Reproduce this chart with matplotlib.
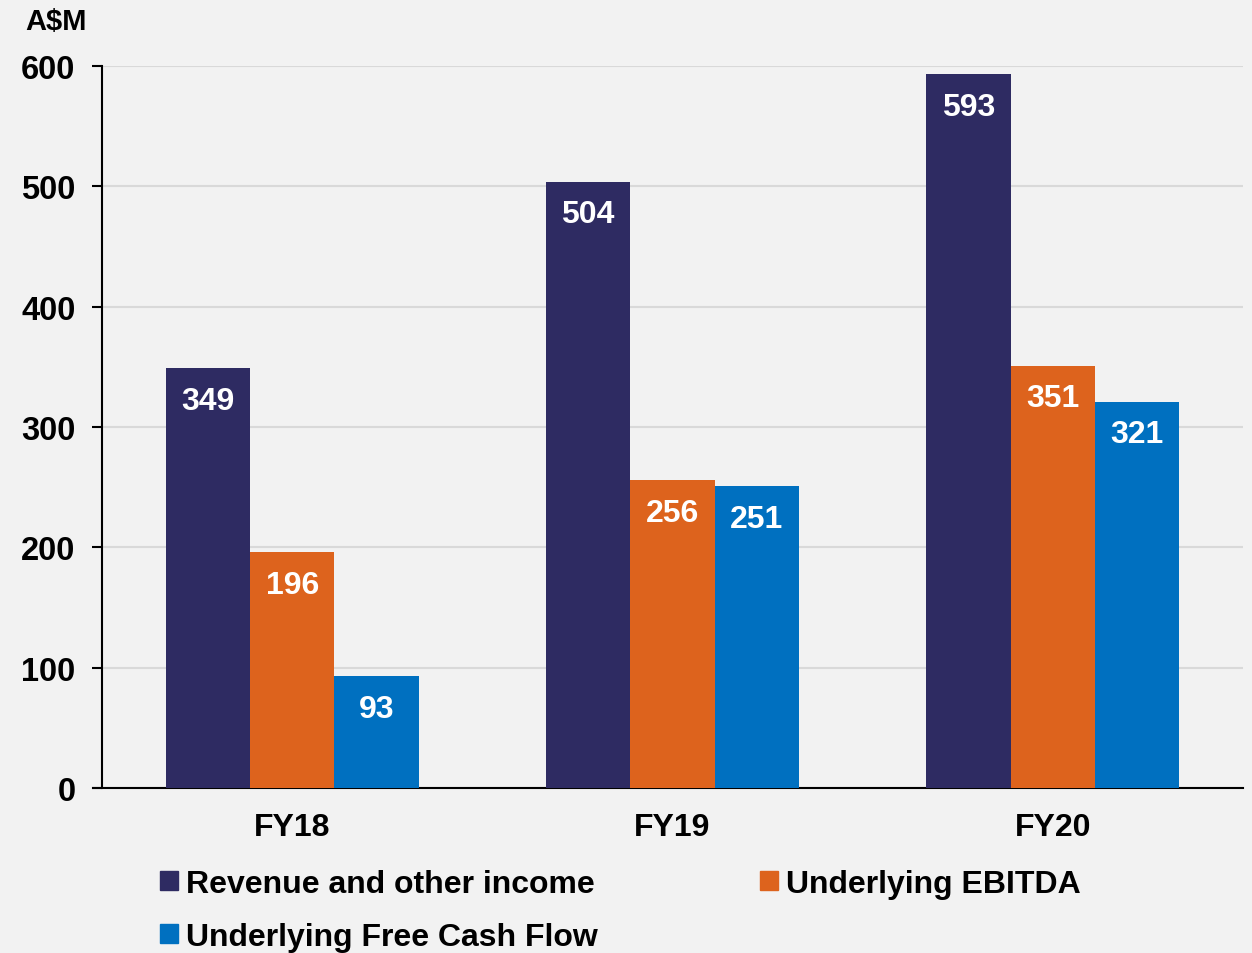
import matplotlib
matplotlib.use("Agg")
import matplotlib.pyplot as plt
import numpy as np
from matplotlib.patches import Patch

categories = ["FY18", "FY19", "FY20"]
series_names = ["Revenue and other income", "Underlying EBITDA", "Underlying Free Cash Flow"]
revenue = [349, 504, 593]
ebitda = [196, 256, 351]
fcf = [93, 251, 321]
yticks = [0, 100, 200, 300, 400, 500, 600]
colors = ["#2E2B62", "#DD631D", "#0070C0"]

plt.rcParams['font.family'] = ['Liberation Sans', 'DejaVu Sans']
plt.rcParams['font.weight'] = 'bold'

fig = plt.figure(figsize=(12.52, 9.54), dpi=100, facecolor="#F2F2F2")
ax = fig.add_axes([102/1252, 1-789/954, (1243-102)/1252, (789-67)/954])
ax.set_facecolor("#F2F2F2")

x = np.arange(len(categories))
w = 0.222
series = [revenue, ebitda, fcf]
for i, (vals, c) in enumerate(zip(series, colors)):
    ax.bar(x + (i-1)*w, vals, width=w, color=c, zorder=3, label=series_names[i])
    for xi, v in zip(x + (i-1)*w, vals):
        ax.annotate(str(v), (xi, v), xytext=(0, -23.5), textcoords="offset points",
                    ha="center", va="center", color="white", fontsize=23, fontweight="bold", zorder=4)

ax.set_xlim(-0.5, 2.5)
ax.set_ylim(0, 600)
ax.set_yticks(yticks)
ax.set_yticklabels([str(t) for t in yticks], fontsize=23.5, fontweight="bold")
ax.set_xticks(x)
ax.set_xticklabels(categories, fontsize=23, fontweight="bold")
ax.tick_params(axis='x', length=0, pad=17)
ax.tick_params(axis='y', length=7, width=1.5, pad=12, direction='out')
ax.grid(axis='y', color="#D9D9D9", linewidth=1.5, zorder=0)
for s in ["top", "right"]:
    ax.spines[s].set_visible(False)
ax.spines["left"].set_linewidth(1.5)
ax.spines["bottom"].set_linewidth(1.5)
ax.spines["bottom"].set_bounds(-0.5 - 9/380, 2.5)
ax.spines["bottom"].set_clip_on(False)

fig.text(56/1252, 1-22/954, "A$M", ha="center", va="center", fontsize=21, fontweight="bold")

handles = [Patch(color=colors[0]), Patch(color=colors[2]), Patch(color=colors[1])]
labels = [series_names[0], series_names[2], series_names[1]]
fig.legend(handles, labels, ncol=2, loc="upper left", bbox_to_anchor=(160/1252, 1-870/954),
           frameon=False, handlelength=0.55, handleheight=0.55,
           handletextpad=0.25, columnspacing=5.1, labelspacing=0.72, borderpad=0,
           borderaxespad=0, prop={'weight': 'bold', 'size': 23})

fig.savefig("out.png", dpi=100, facecolor="#F2F2F2")
